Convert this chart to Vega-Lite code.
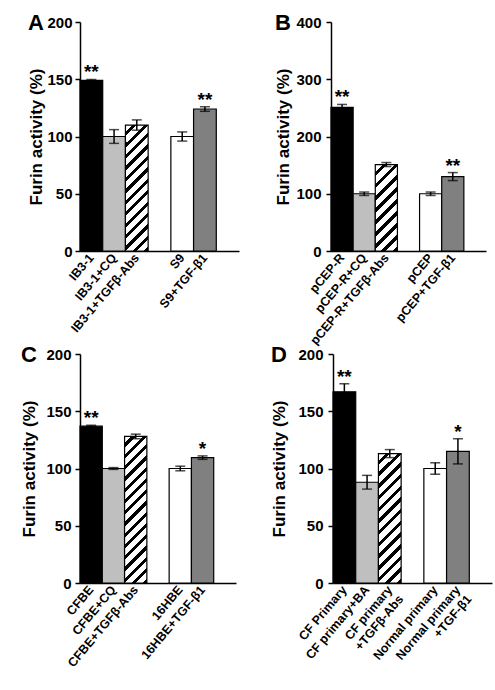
{
  "$schema": "https://vega.github.io/schema/vega-lite/v6.json",
  "background": "white",
  "padding": {"left": 20, "top": 12, "right": 5, "bottom": 5},
  "datasets": {
    "a": [
      {"cond": "IB3-1", "kind": "cf", "value": 149, "err": 0.8, "sig": "**"},
      {"cond": "IB3-1+CQ", "kind": "cq", "value": 100, "err": 6, "sig": ""},
      {"cond": "IB3-1+TGFβ-Abs", "kind": "abs", "value": 110, "err": 4.5, "sig": ""},
      {"cond": "S9", "kind": "ctrl", "value": 100, "err": 4, "sig": ""},
      {"cond": "S9+TGF-β1", "kind": "tgf", "value": 124, "err": 2, "sig": "**"}
    ],
    "b": [
      {"cond": "pCEP-R", "kind": "cf", "value": 251, "err": 5, "sig": "**"},
      {"cond": "pCEP-R+CQ", "kind": "cq", "value": 100, "err": 3, "sig": ""},
      {"cond": "pCEP-R+TGFβ-Abs", "kind": "abs", "value": 151, "err": 3.5, "sig": ""},
      {"cond": "pCEP", "kind": "ctrl", "value": 100, "err": 3, "sig": ""},
      {"cond": "pCEP+TGF-β1", "kind": "tgf", "value": 130, "err": 7, "sig": "**"}
    ],
    "c": [
      {"cond": "CFBE", "kind": "cf", "value": 137, "err": 0.8, "sig": "**"},
      {"cond": "CFBE+CQ", "kind": "cq", "value": 100, "err": 0.8, "sig": ""},
      {"cond": "CFBE+TGFβ-Abs", "kind": "abs", "value": 128, "err": 2, "sig": ""},
      {"cond": "16HBE", "kind": "ctrl", "value": 100, "err": 2, "sig": ""},
      {"cond": "16HBE+TGF-β1", "kind": "tgf", "value": 109.5, "err": 1.5, "sig": "*"}
    ],
    "d": [
      {"cond": "CF Primary", "kind": "cf", "value": 167, "err": 7, "sig": "**"},
      {"cond": "CF primary+BA", "kind": "cq", "value": 88, "err": 6, "sig": ""},
      {"cond": "CF primary +TGFβ-Abs", "kind": "abs", "value": 113, "err": 3.5, "sig": ""},
      {"cond": "Normal primary", "kind": "ctrl", "value": 100, "err": 5, "sig": ""},
      {"cond": "Normal primary +TGF-β1", "kind": "tgf", "value": 115, "err": 11, "sig": "*"}
    ]
  },
  "config": {
    "view": {"stroke": null},
    "font": "Liberation Sans",
    "axisX": {"ticks": false, "labelAngle": -50, "labelAlign": "right", "labelBaseline": "middle", "labelFontSize": 12.5, "labelFontWeight": "bold", "labelColor": "black", "labelPadding": 4, "domainColor": "black", "domainWidth": 1.5, "labelOverlap": false, "labelFont": "Liberation Sans", "grid": false},
    "axisY": {"tickColor": "black", "tickSize": 5, "tickWidth": 1.5, "domainColor": "black", "domainWidth": 1.5, "labelFontSize": 15, "labelFontWeight": "bold", "labelColor": "black", "labelFont": "Liberation Sans", "labelFlush": false, "titleFont": "Liberation Sans", "titleFontSize": 17, "titleFontWeight": "bold", "titleColor": "black", "grid": false},
    "title": {"anchor": "start", "frame": "bounds", "fontSize": 22, "fontWeight": "bold", "font": "Liberation Sans", "color": "black", "offset": -20}
  },
  "spacing": -3,
  "vconcat": [
    {
      "spacing": 35,
      "hconcat": [
        {
          "width": 159, "height": 229,
          "data": {"name": "a"},
          "title": {"text": "A"},
          "encoding": {"x": {"field": "cond", "type": "nominal", "sort": null, "scale": {"domain": ["IB3-1", "IB3-1+CQ", "IB3-1+TGFβ-Abs", " ", "S9", "S9+TGF-β1", "  "], "paddingInner": 0, "paddingOuter": 0}, "axis": {"title": null}}},
          "layer": [
            {"mark": {"type": "bar", "stroke": "black", "strokeWidth": 1.2}, "transform": [{"filter": "datum.kind != 'abs'"}],
             "encoding": {"y": {"field": "value", "type": "quantitative", "title": "Furin activity (%)", "scale": {"domain": [0, 200], "nice": false}, "axis": {"values": [0, 50, 100, 150, 200], "labelPadding": 3, "titlePadding": 1}},
                          "fill": {"field": "kind", "type": "nominal", "scale": {"domain": ["cf", "cq", "ctrl", "tgf"], "range": ["#000000", "#bfbfbf", "#ffffff", "#808080"]}, "legend": null}}},
            {"mark": {"type": "bar", "stroke": "black", "strokeWidth": 1.2, "fill": {"gradient": "linear", "x1": 0, "y1": 0, "x2": 0.206, "y2": 1.143, "stops": [
              {"offset": 0, "color": "#fff"}, {"offset": 0.0477, "color": "#fff"}, {"offset": 0.0477, "color": "#000"}, {"offset": 0.0769, "color": "#000"},
              {"offset": 0.0769, "color": "#fff"}, {"offset": 0.1246, "color": "#fff"}, {"offset": 0.1246, "color": "#000"}, {"offset": 0.1538, "color": "#000"},
              {"offset": 0.1538, "color": "#fff"}, {"offset": 0.2015, "color": "#fff"}, {"offset": 0.2015, "color": "#000"}, {"offset": 0.2308, "color": "#000"},
              {"offset": 0.2308, "color": "#fff"}, {"offset": 0.2785, "color": "#fff"}, {"offset": 0.2785, "color": "#000"}, {"offset": 0.3077, "color": "#000"},
              {"offset": 0.3077, "color": "#fff"}, {"offset": 0.3554, "color": "#fff"}, {"offset": 0.3554, "color": "#000"}, {"offset": 0.3846, "color": "#000"},
              {"offset": 0.3846, "color": "#fff"}, {"offset": 0.4323, "color": "#fff"}, {"offset": 0.4323, "color": "#000"}, {"offset": 0.4615, "color": "#000"},
              {"offset": 0.4615, "color": "#fff"}, {"offset": 0.5092, "color": "#fff"}, {"offset": 0.5092, "color": "#000"}, {"offset": 0.5385, "color": "#000"},
              {"offset": 0.5385, "color": "#fff"}, {"offset": 0.5862, "color": "#fff"}, {"offset": 0.5862, "color": "#000"}, {"offset": 0.6154, "color": "#000"},
              {"offset": 0.6154, "color": "#fff"}, {"offset": 0.6631, "color": "#fff"}, {"offset": 0.6631, "color": "#000"}, {"offset": 0.6923, "color": "#000"},
              {"offset": 0.6923, "color": "#fff"}, {"offset": 0.74, "color": "#fff"}, {"offset": 0.74, "color": "#000"}, {"offset": 0.7692, "color": "#000"},
              {"offset": 0.7692, "color": "#fff"}, {"offset": 0.8169, "color": "#fff"}, {"offset": 0.8169, "color": "#000"}, {"offset": 0.8462, "color": "#000"},
              {"offset": 0.8462, "color": "#fff"}, {"offset": 0.8938, "color": "#fff"}, {"offset": 0.8938, "color": "#000"}, {"offset": 0.9231, "color": "#000"},
              {"offset": 0.9231, "color": "#fff"}, {"offset": 0.9708, "color": "#fff"}, {"offset": 0.9708, "color": "#000"}, {"offset": 1, "color": "#000"}
            ]}}, "transform": [{"filter": "datum.kind == 'abs'"}],
             "encoding": {"y": {"field": "value", "type": "quantitative", "title": "Furin activity (%)"}}},
            {"mark": {"type": "errorbar", "ticks": true, "size": 10, "thickness": 1.5, "color": "black"},
             "encoding": {"y": {"field": "value", "type": "quantitative", "title": "Furin activity (%)"}, "yError": {"field": "err"}}},
            {"mark": {"type": "text", "fontSize": 19, "fontWeight": "bold", "dy": -1, "baseline": "alphabetic", "color": "black"},
             "transform": [{"filter": "datum.sig != ''"}, {"calculate": "datum.value + datum.err", "as": "top"}],
             "encoding": {"y": {"field": "top", "type": "quantitative", "title": "Furin activity (%)"}, "text": {"field": "sig"}}}
          ]
        },
        {
          "width": 155, "height": 229,
          "data": {"name": "b"},
          "title": {"text": "B"},
          "encoding": {"x": {"field": "cond", "type": "nominal", "sort": null, "scale": {"domain": ["pCEP-R", "pCEP-R+CQ", "pCEP-R+TGFβ-Abs", " ", "pCEP", "pCEP+TGF-β1", "  "], "paddingInner": 0, "paddingOuter": 0}, "axis": {"title": null}}},
          "layer": [
            {"mark": {"type": "bar", "stroke": "black", "strokeWidth": 1.2}, "transform": [{"filter": "datum.kind != 'abs'"}],
             "encoding": {"y": {"field": "value", "type": "quantitative", "title": "Furin activity (%)", "scale": {"domain": [0, 400], "nice": false}, "axis": {"values": [0, 100, 200, 300, 400], "labelPadding": 5, "titlePadding": 3}},
                          "fill": {"field": "kind", "type": "nominal", "scale": {"domain": ["cf", "cq", "ctrl", "tgf"], "range": ["#000000", "#bfbfbf", "#ffffff", "#808080"]}, "legend": null}}},
            {"mark": {"type": "bar", "stroke": "black", "strokeWidth": 1.2, "fill": {"gradient": "linear", "x1": 0, "y1": 0, "x2": 0.3015, "y2": 1.1787, "stops": [
              {"offset": 0, "color": "#fff"}, {"offset": 0.0689, "color": "#fff"}, {"offset": 0.0689, "color": "#000"}, {"offset": 0.1111, "color": "#000"},
              {"offset": 0.1111, "color": "#fff"}, {"offset": 0.18, "color": "#fff"}, {"offset": 0.18, "color": "#000"}, {"offset": 0.2222, "color": "#000"},
              {"offset": 0.2222, "color": "#fff"}, {"offset": 0.2911, "color": "#fff"}, {"offset": 0.2911, "color": "#000"}, {"offset": 0.3333, "color": "#000"},
              {"offset": 0.3333, "color": "#fff"}, {"offset": 0.4022, "color": "#fff"}, {"offset": 0.4022, "color": "#000"}, {"offset": 0.4444, "color": "#000"},
              {"offset": 0.4444, "color": "#fff"}, {"offset": 0.5133, "color": "#fff"}, {"offset": 0.5133, "color": "#000"}, {"offset": 0.5556, "color": "#000"},
              {"offset": 0.5556, "color": "#fff"}, {"offset": 0.6244, "color": "#fff"}, {"offset": 0.6244, "color": "#000"}, {"offset": 0.6667, "color": "#000"},
              {"offset": 0.6667, "color": "#fff"}, {"offset": 0.7356, "color": "#fff"}, {"offset": 0.7356, "color": "#000"}, {"offset": 0.7778, "color": "#000"},
              {"offset": 0.7778, "color": "#fff"}, {"offset": 0.8467, "color": "#fff"}, {"offset": 0.8467, "color": "#000"}, {"offset": 0.8889, "color": "#000"},
              {"offset": 0.8889, "color": "#fff"}, {"offset": 0.9578, "color": "#fff"}, {"offset": 0.9578, "color": "#000"}, {"offset": 1, "color": "#000"}
            ]}}, "transform": [{"filter": "datum.kind == 'abs'"}],
             "encoding": {"y": {"field": "value", "type": "quantitative", "title": "Furin activity (%)"}}},
            {"mark": {"type": "errorbar", "ticks": true, "size": 10, "thickness": 1.5, "color": "black"},
             "encoding": {"y": {"field": "value", "type": "quantitative", "title": "Furin activity (%)"}, "yError": {"field": "err"}}},
            {"mark": {"type": "text", "fontSize": 19, "fontWeight": "bold", "dy": -1, "baseline": "alphabetic", "color": "black"},
             "transform": [{"filter": "datum.sig != ''"}, {"calculate": "datum.value + datum.err", "as": "top"}],
             "encoding": {"y": {"field": "top", "type": "quantitative", "title": "Furin activity (%)"}, "text": {"field": "sig"}}}
          ]
        }
      ]
    },
    {
      "spacing": 34,
      "hconcat": [
        {
          "width": 156, "height": 229,
          "data": {"name": "c"},
          "title": {"text": "C"},
          "encoding": {"x": {"field": "cond", "type": "nominal", "sort": null, "scale": {"domain": ["CFBE", "CFBE+CQ", "CFBE+TGFβ-Abs", " ", "16HBE", "16HBE+TGF-β1", "  "], "paddingInner": 0, "paddingOuter": 0}, "axis": {"title": null}}},
          "layer": [
            {"mark": {"type": "bar", "stroke": "black", "strokeWidth": 1.2}, "transform": [{"filter": "datum.kind != 'abs'"}],
             "encoding": {"y": {"field": "value", "type": "quantitative", "title": "Furin activity (%)", "scale": {"domain": [0, 200], "nice": false}, "axis": {"values": [0, 50, 100, 150, 200], "labelPadding": 4, "titlePadding": 7}},
                          "fill": {"field": "kind", "type": "nominal", "scale": {"domain": ["cf", "cq", "ctrl", "tgf"], "range": ["#000000", "#bfbfbf", "#ffffff", "#808080"]}, "legend": null}}},
            {"mark": {"type": "bar", "stroke": "black", "strokeWidth": 1.2, "fill": {"gradient": "linear", "x1": 0, "y1": 0, "x2": 0.1713, "y2": 1.126, "stops": [
              {"offset": 0, "color": "#fff"}, {"offset": 0.0413, "color": "#fff"}, {"offset": 0.0413, "color": "#000"}, {"offset": 0.0667, "color": "#000"},
              {"offset": 0.0667, "color": "#fff"}, {"offset": 0.108, "color": "#fff"}, {"offset": 0.108, "color": "#000"}, {"offset": 0.1333, "color": "#000"},
              {"offset": 0.1333, "color": "#fff"}, {"offset": 0.1747, "color": "#fff"}, {"offset": 0.1747, "color": "#000"}, {"offset": 0.2, "color": "#000"},
              {"offset": 0.2, "color": "#fff"}, {"offset": 0.2413, "color": "#fff"}, {"offset": 0.2413, "color": "#000"}, {"offset": 0.2667, "color": "#000"},
              {"offset": 0.2667, "color": "#fff"}, {"offset": 0.308, "color": "#fff"}, {"offset": 0.308, "color": "#000"}, {"offset": 0.3333, "color": "#000"},
              {"offset": 0.3333, "color": "#fff"}, {"offset": 0.3747, "color": "#fff"}, {"offset": 0.3747, "color": "#000"}, {"offset": 0.4, "color": "#000"},
              {"offset": 0.4, "color": "#fff"}, {"offset": 0.4413, "color": "#fff"}, {"offset": 0.4413, "color": "#000"}, {"offset": 0.4667, "color": "#000"},
              {"offset": 0.4667, "color": "#fff"}, {"offset": 0.508, "color": "#fff"}, {"offset": 0.508, "color": "#000"}, {"offset": 0.5333, "color": "#000"},
              {"offset": 0.5333, "color": "#fff"}, {"offset": 0.5747, "color": "#fff"}, {"offset": 0.5747, "color": "#000"}, {"offset": 0.6, "color": "#000"},
              {"offset": 0.6, "color": "#fff"}, {"offset": 0.6413, "color": "#fff"}, {"offset": 0.6413, "color": "#000"}, {"offset": 0.6667, "color": "#000"},
              {"offset": 0.6667, "color": "#fff"}, {"offset": 0.708, "color": "#fff"}, {"offset": 0.708, "color": "#000"}, {"offset": 0.7333, "color": "#000"},
              {"offset": 0.7333, "color": "#fff"}, {"offset": 0.7747, "color": "#fff"}, {"offset": 0.7747, "color": "#000"}, {"offset": 0.8, "color": "#000"},
              {"offset": 0.8, "color": "#fff"}, {"offset": 0.8413, "color": "#fff"}, {"offset": 0.8413, "color": "#000"}, {"offset": 0.8667, "color": "#000"},
              {"offset": 0.8667, "color": "#fff"}, {"offset": 0.908, "color": "#fff"}, {"offset": 0.908, "color": "#000"}, {"offset": 0.9333, "color": "#000"},
              {"offset": 0.9333, "color": "#fff"}, {"offset": 0.9747, "color": "#fff"}, {"offset": 0.9747, "color": "#000"}, {"offset": 1, "color": "#000"}
            ]}}, "transform": [{"filter": "datum.kind == 'abs'"}],
             "encoding": {"y": {"field": "value", "type": "quantitative", "title": "Furin activity (%)"}}},
            {"mark": {"type": "errorbar", "ticks": true, "size": 10, "thickness": 1.5, "color": "black"},
             "encoding": {"y": {"field": "value", "type": "quantitative", "title": "Furin activity (%)"}, "yError": {"field": "err"}}},
            {"mark": {"type": "text", "fontSize": 19, "fontWeight": "bold", "dy": -1, "baseline": "alphabetic", "color": "black"},
             "transform": [{"filter": "datum.sig != ''"}, {"calculate": "datum.value + datum.err", "as": "top"}],
             "encoding": {"y": {"field": "top", "type": "quantitative", "title": "Furin activity (%)"}, "text": {"field": "sig"}}}
          ]
        },
        {
          "width": 159, "height": 229,
          "data": {"name": "d"},
          "title": {"text": "D"},
          "encoding": {"x": {"field": "cond", "type": "nominal", "sort": null, "scale": {"domain": ["CF Primary", "CF primary+BA", "CF primary +TGFβ-Abs", " ", "Normal primary", "Normal primary +TGF-β1", "  "], "paddingInner": 0, "paddingOuter": 0}, "axis": {"title": null, "labelExpr": "indexof(datum.label, ' +') > 0 ? [slice(datum.label, 0, indexof(datum.label, ' +')), slice(datum.label, indexof(datum.label, ' +') + 1)] : datum.label"}}},
          "layer": [
            {"mark": {"type": "bar", "stroke": "black", "strokeWidth": 1.2}, "transform": [{"filter": "datum.kind != 'abs'"}],
             "encoding": {"y": {"field": "value", "type": "quantitative", "title": "Furin activity (%)", "scale": {"domain": [0, 200], "nice": false}, "axis": {"values": [0, 50, 100, 150, 200], "labelPadding": 5, "titlePadding": 9}},
                          "fill": {"field": "kind", "type": "nominal", "scale": {"domain": ["cf", "cq", "ctrl", "tgf"], "range": ["#000000", "#bfbfbf", "#ffffff", "#808080"]}, "legend": null}}},
            {"mark": {"type": "bar", "stroke": "black", "strokeWidth": 1.2, "fill": {"gradient": "linear", "x1": 0, "y1": 0, "x2": 0.2001, "y2": 1.1404, "stops": [
              {"offset": 0, "color": "#fff"}, {"offset": 0.0477, "color": "#fff"}, {"offset": 0.0477, "color": "#000"}, {"offset": 0.0769, "color": "#000"},
              {"offset": 0.0769, "color": "#fff"}, {"offset": 0.1246, "color": "#fff"}, {"offset": 0.1246, "color": "#000"}, {"offset": 0.1538, "color": "#000"},
              {"offset": 0.1538, "color": "#fff"}, {"offset": 0.2015, "color": "#fff"}, {"offset": 0.2015, "color": "#000"}, {"offset": 0.2308, "color": "#000"},
              {"offset": 0.2308, "color": "#fff"}, {"offset": 0.2785, "color": "#fff"}, {"offset": 0.2785, "color": "#000"}, {"offset": 0.3077, "color": "#000"},
              {"offset": 0.3077, "color": "#fff"}, {"offset": 0.3554, "color": "#fff"}, {"offset": 0.3554, "color": "#000"}, {"offset": 0.3846, "color": "#000"},
              {"offset": 0.3846, "color": "#fff"}, {"offset": 0.4323, "color": "#fff"}, {"offset": 0.4323, "color": "#000"}, {"offset": 0.4615, "color": "#000"},
              {"offset": 0.4615, "color": "#fff"}, {"offset": 0.5092, "color": "#fff"}, {"offset": 0.5092, "color": "#000"}, {"offset": 0.5385, "color": "#000"},
              {"offset": 0.5385, "color": "#fff"}, {"offset": 0.5862, "color": "#fff"}, {"offset": 0.5862, "color": "#000"}, {"offset": 0.6154, "color": "#000"},
              {"offset": 0.6154, "color": "#fff"}, {"offset": 0.6631, "color": "#fff"}, {"offset": 0.6631, "color": "#000"}, {"offset": 0.6923, "color": "#000"},
              {"offset": 0.6923, "color": "#fff"}, {"offset": 0.74, "color": "#fff"}, {"offset": 0.74, "color": "#000"}, {"offset": 0.7692, "color": "#000"},
              {"offset": 0.7692, "color": "#fff"}, {"offset": 0.8169, "color": "#fff"}, {"offset": 0.8169, "color": "#000"}, {"offset": 0.8462, "color": "#000"},
              {"offset": 0.8462, "color": "#fff"}, {"offset": 0.8938, "color": "#fff"}, {"offset": 0.8938, "color": "#000"}, {"offset": 0.9231, "color": "#000"},
              {"offset": 0.9231, "color": "#fff"}, {"offset": 0.9708, "color": "#fff"}, {"offset": 0.9708, "color": "#000"}, {"offset": 1, "color": "#000"}
            ]}}, "transform": [{"filter": "datum.kind == 'abs'"}],
             "encoding": {"y": {"field": "value", "type": "quantitative", "title": "Furin activity (%)"}}},
            {"mark": {"type": "errorbar", "ticks": true, "size": 10, "thickness": 1.5, "color": "black"},
             "encoding": {"y": {"field": "value", "type": "quantitative", "title": "Furin activity (%)"}, "yError": {"field": "err"}}},
            {"mark": {"type": "text", "fontSize": 19, "fontWeight": "bold", "dy": -1, "baseline": "alphabetic", "color": "black"},
             "transform": [{"filter": "datum.sig != ''"}, {"calculate": "datum.value + datum.err", "as": "top"}],
             "encoding": {"y": {"field": "top", "type": "quantitative", "title": "Furin activity (%)"}, "text": {"field": "sig"}}}
          ]
        }
      ]
    }
  ]
}
